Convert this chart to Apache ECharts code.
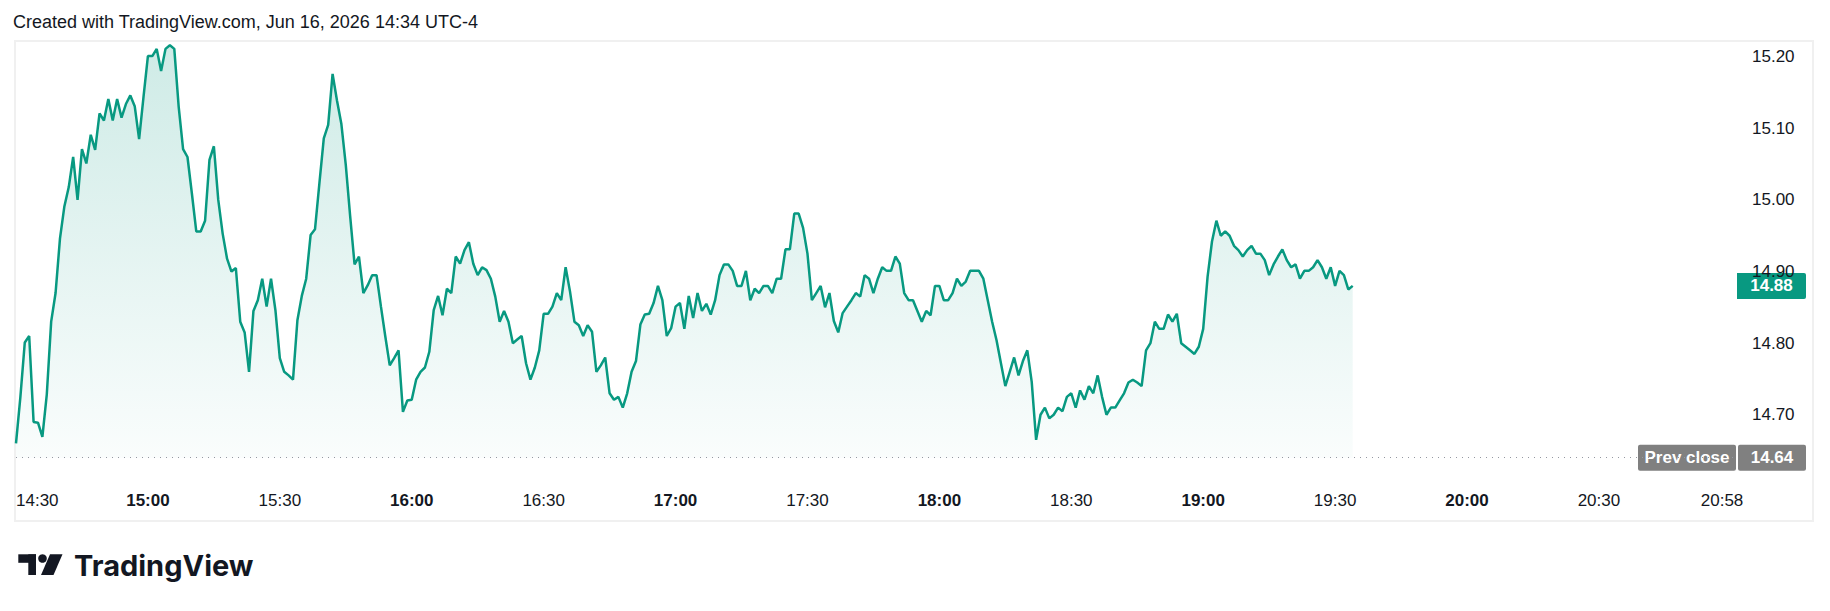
<!DOCTYPE html>
<html>
<head>
<meta charset="utf-8">
<title>Intraday snapshot</title>
<script src="https://cdn.jsdelivr.net/npm/echarts@6/dist/echarts.min.js"></script>
<style>
  html, body { margin: 0; padding: 0; background: #fff; }
  #chart { width: 1830px; height: 611px; }
</style>
</head>
<body>
<div id="chart"></div>
<script>
// one close per minute, first one at 14:30
var startTime = '14:30';
var prices = [
  14.660, 14.725, 14.801, 14.810, 14.690, 14.689, 14.669, 14.728, 14.830, 14.870, // 14:30
  14.946, 14.991, 15.018, 15.060, 15.000, 15.071, 15.051, 15.091, 15.070, 15.121, // 14:40
  15.111, 15.141, 15.111, 15.141, 15.115, 15.134, 15.146, 15.131, 15.085, 15.144, // 14:50
  15.201, 15.201, 15.211, 15.180, 15.211, 15.216, 15.211, 15.130, 15.071, 15.060, // 15:00
  15.009, 14.956, 14.956, 14.971, 15.056, 15.075, 15.000, 14.953, 14.918, 14.900, // 15:10
  14.905, 14.830, 14.815, 14.760, 14.845, 14.860, 14.890, 14.851, 14.890, 14.846, // 15:20
  14.779, 14.760, 14.755, 14.749, 14.832, 14.866, 14.890, 14.951, 14.959, 15.023, // 15:30
  15.086, 15.105, 15.176, 15.139, 15.106, 15.049, 14.977, 14.910, 14.921, 14.870, // 15:40
  14.881, 14.895, 14.895, 14.851, 14.809, 14.769, 14.779, 14.790, 14.704, 14.720, // 15:50
  14.721, 14.749, 14.760, 14.766, 14.788, 14.846, 14.866, 14.839, 14.876, 14.870, // 16:00
  14.921, 14.911, 14.930, 14.941, 14.911, 14.895, 14.906, 14.902, 14.890, 14.865, // 16:10
  14.830, 14.845, 14.830, 14.800, 14.805, 14.810, 14.772, 14.749, 14.766, 14.790, // 16:20
  14.841, 14.841, 14.851, 14.870, 14.860, 14.906, 14.872, 14.830, 14.825, 14.810, // 16:30
  14.825, 14.816, 14.760, 14.769, 14.780, 14.730, 14.721, 14.725, 14.710, 14.730, // 16:40
  14.760, 14.775, 14.826, 14.840, 14.841, 14.856, 14.880, 14.860, 14.810, 14.821, // 16:50
  14.851, 14.856, 14.820, 14.866, 14.835, 14.870, 14.845, 14.855, 14.840, 14.860, // 17:00
  14.895, 14.910, 14.910, 14.901, 14.880, 14.880, 14.901, 14.860, 14.876, 14.870, // 17:10
  14.880, 14.880, 14.870, 14.890, 14.890, 14.931, 14.931, 14.981, 14.981, 14.961, // 17:20
  14.925, 14.860, 14.870, 14.880, 14.850, 14.870, 14.831, 14.815, 14.842, 14.851, // 17:30
  14.860, 14.870, 14.865, 14.895, 14.890, 14.870, 14.890, 14.906, 14.901, 14.901, // 17:40
  14.921, 14.911, 14.870, 14.860, 14.860, 14.845, 14.830, 14.845, 14.839, 14.880, // 17:50
  14.880, 14.860, 14.860, 14.870, 14.890, 14.880, 14.886, 14.901, 14.901, 14.901, // 18:00
  14.890, 14.860, 14.830, 14.804, 14.772, 14.740, 14.760, 14.780, 14.755, 14.775, // 18:10
  14.790, 14.746, 14.665, 14.700, 14.710, 14.695, 14.700, 14.710, 14.705, 14.725, // 18:20
  14.730, 14.710, 14.734, 14.721, 14.740, 14.730, 14.755, 14.725, 14.700, 14.710, // 18:30
  14.710, 14.720, 14.730, 14.745, 14.749, 14.745, 14.740, 14.790, 14.800, 14.830, // 18:40
  14.820, 14.820, 14.840, 14.830, 14.841, 14.800, 14.795, 14.790, 14.785, 14.795, // 18:50
  14.820, 14.893, 14.942, 14.971, 14.950, 14.956, 14.950, 14.936, 14.930, 14.921, // 19:00
  14.930, 14.936, 14.925, 14.925, 14.916, 14.895, 14.910, 14.921, 14.931, 14.916, // 19:10
  14.906, 14.910, 14.890, 14.901, 14.901, 14.906, 14.916, 14.906, 14.890, 14.906, // 19:20
  14.880, 14.901, 14.895, 14.875, 14.880                                          // 19:30
];
var timeTicks = ['14:30', '15:00', '15:30', '16:00', '16:30', '17:00', '17:30',
                 '18:00', '18:30', '19:00', '19:30', '20:00', '20:30', '20:58'];
var priceTicks = [14.70, 14.80, 14.90, 15.00, 15.10, 15.20];
var prevClose = 14.64;
var lastPrice = 14.88;

// visible window of the pane (minutes after start, price)
var xMax = 391.4;
var yMin = 14.6089;
var yMax = 15.222;

var FONT = '"Liberation Sans", Arial, sans-serif';
var TEXT = '#131722';
var GREEN = '#089981';
var GREY = '#808080';

function toMin(s) {
  var p = s.split(':');
  return (+p[0]) * 60 + (+p[1]);
}
function fmtTime(m) {
  var t = toMin(startTime) + Math.round(m);
  var hh = Math.floor(t / 60), mm = t % 60;
  return (hh < 10 ? '0' : '') + hh + ':' + (mm < 10 ? '0' : '') + mm;
}

var dom = document.getElementById('chart');
var myChart = echarts.init(dom, null, { renderer: 'svg' });

var seriesData = prices.map(function (v, i) { return [i, v]; });
var tickMinutes = timeTicks.map(function (s) { return toMin(s) - toMin(startTime); });

var option = {
  animation: false,
  backgroundColor: '#fff',
  grid: { left: 16, right: 93, top: 41, bottom: 131, containLabel: false, outerBoundsMode: 'none' },
  xAxis: {
    type: 'value',
    min: 0,
    max: xMax,
    axisLine: { show: false },
    axisTick: { show: false },
    splitLine: { show: false },
    axisLabel: {
      customValues: tickMinutes,
      alignMinLabel: 'left',
      margin: 12,
      formatter: function (v) {
        var s = fmtTime(v);
        return (s.slice(3) === '00' ? '{b|' : '{n|') + s + '}';
      },
      rich: {
        b: { fontFamily: FONT, fontSize: 17, fontWeight: 'bold', color: TEXT },
        n: { fontFamily: FONT, fontSize: 17, color: TEXT }
      }
    }
  },
  yAxis: {
    type: 'value',
    position: 'right',
    min: yMin,
    max: yMax,
    axisLine: { show: false },
    axisTick: { show: false },
    splitLine: { show: false },
    axisLabel: {
      customValues: priceTicks,
      margin: 15,
      align: 'left',
      fontFamily: FONT,
      fontSize: 17,
      color: TEXT,
      formatter: function (v) { return v.toFixed(2); }
    }
  },
  series: [{
    type: 'line',
    data: seriesData,
    symbol: 'none',
    z: 3,
    lineStyle: { color: GREEN, width: 2.5 },
    areaStyle: {
      origin: prevClose,
      color: new echarts.graphic.LinearGradient(0, 0, 0, 1, [
        { offset: 0, color: 'rgba(8,153,129,0.28)' },
        { offset: 1, color: 'rgba(8,153,129,0.03)' }
      ])
    },
    markLine: {
      silent: true,
      symbol: 'none',
      label: { show: false },
      lineStyle: { color: '#9598a1', width: 1, type: [1, 5] },
      data: [{ yAxis: prevClose }]
    }
  }]
};
myChart.setOption(option);

// price tags and page decoration, placed with the axes' own scale
var xEdge = myChart.convertToPixel({ xAxisIndex: 0 }, xMax);
var yLast = myChart.convertToPixel({ yAxisIndex: 0 }, lastPrice);
var yPrev = myChart.convertToPixel({ yAxisIndex: 0 }, prevClose);

function tag(x, y, w, label, fill, r) {
  return {
    type: 'group',
    z: 100,
    children: [
      { type: 'rect', shape: { x: x, y: y - 13, width: w, height: 26, r: r }, style: { fill: fill } },
      { type: 'text', style: { text: label, x: x + w / 2, y: y, textAlign: 'center', textVerticalAlign: 'middle',
          fill: '#fff', font: 'bold 17px ' + FONT } }
    ]
  };
}

myChart.setOption({
  graphic: [
    { type: 'rect', z: 0, shape: { x: 15, y: 41, width: 1798, height: 480 },
      style: { fill: 'none', stroke: '#f0f0f0', lineWidth: 2 } },
    { type: 'text', style: { text: 'Created with TradingView.com, Jun 16, 2026 14:34 UTC-4', x: 13, y: 22,
        textVerticalAlign: 'middle', fill: TEXT, font: '18px ' + FONT } },
    tag(xEdge, yLast, 69, lastPrice.toFixed(2), GREEN, [0, 2, 2, 0]),
    tag(xEdge - 99, yPrev, 98, 'Prev close', GREY, 2),
    tag(xEdge + 1, yPrev, 68, prevClose.toFixed(2), GREY, 2),
    // TradingView mark
    { type: 'rect', shape: { x: 18.3, y: 554.3, width: 17.7, height: 8.5 }, style: { fill: TEXT } },
    { type: 'rect', shape: { x: 28.3, y: 554.3, width: 7.7, height: 20.7 }, style: { fill: TEXT } },
    { type: 'circle', shape: { cx: 42.5, cy: 558.5, r: 4.3 }, style: { fill: TEXT } },
    { type: 'polygon', shape: { points: [[50, 554.3], [62.5, 554.3], [53.5, 575], [41, 575]] }, style: { fill: TEXT } },
    { type: 'text', style: { text: 'TradingView', x: 74, y: 565, textVerticalAlign: 'middle',
        fill: TEXT, font: 'bold 29px Inter, ' + FONT } }
  ]
});
</script>
</body>
</html>
